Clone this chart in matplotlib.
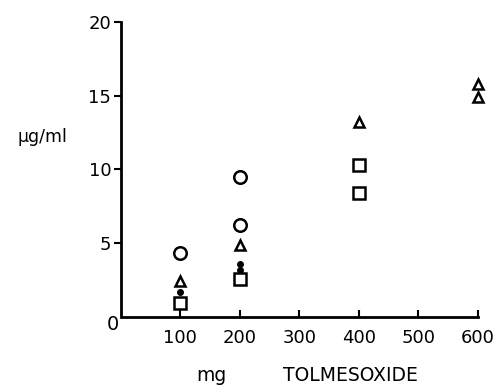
"""serum levels vs tolmesoxide dose"""
import matplotlib
matplotlib.use("Agg")
import matplotlib.pyplot as plt

# dose (mg) and level (ug/ml) per marker group
circle_x = [100, 200, 200]
circle_y = [4.3, 9.5, 6.2]
tri_x = [100, 200, 400, 600, 600]
tri_y = [2.4, 4.9, 13.2, 15.8, 14.9]
dot_x = [100, 200, 200]
dot_y = [1.7, 3.6, 3.2]
square_x = [100, 200, 400, 400]
square_y = [0.95, 2.6, 10.3, 8.4]

xticks = [100, 200, 300, 400, 500, 600]
yticks = [5, 10, 15, 20]

plt.rcParams["font.family"] = ["DejaVu Sans"]

fig = plt.figure(figsize=(5.04, 3.85), dpi=100)
ax = fig.add_axes([0.240, 0.177, 0.708, 0.766])

ms_open = dict(linestyle="none", markerfacecolor="white", markeredgecolor="black",
               markeredgewidth=1.8, color="black", clip_on=False)
ax.plot(circle_x, circle_y, marker="o", markersize=9, **ms_open)
ax.plot(tri_x, tri_y, marker="^", markersize=7, **ms_open)
ax.plot(square_x, square_y, marker="s", markersize=8.5, **ms_open)
ax.plot(dot_x, dot_y, marker="o", markersize=4, linestyle="none", color="black", clip_on=False)

ax.set_xlim(0, 600)
ax.set_ylim(0, 20)
ax.spines["top"].set_visible(False)
ax.spines["right"].set_visible(False)
ax.spines["left"].set_linewidth(2)
ax.spines["bottom"].set_linewidth(2)
ax.spines["bottom"].set_bounds(4, 600)

ax.set_xticks(xticks)
ax.set_yticks(yticks)
ax.tick_params(axis="x", direction="in", length=5, width=1.5, labelsize=13, pad=9)
ax.tick_params(axis="y", direction="out", length=5, width=1.5, labelsize=13, pad=2)

ax.text(-13, -0.5, "0", ha="center", va="center", fontsize=14, clip_on=False)
fig.text(0.035, 0.645, "\u00b5g/ml", fontsize=12.5, ha="left", va="center")
fig.text(0.42, 0.025, "mg", fontsize=13.5, ha="center", va="center")
fig.text(0.695, 0.025, "TOLMESOXIDE", fontsize=13.5, ha="center", va="center")

fig.savefig("out.png", dpi=100, facecolor="white")
